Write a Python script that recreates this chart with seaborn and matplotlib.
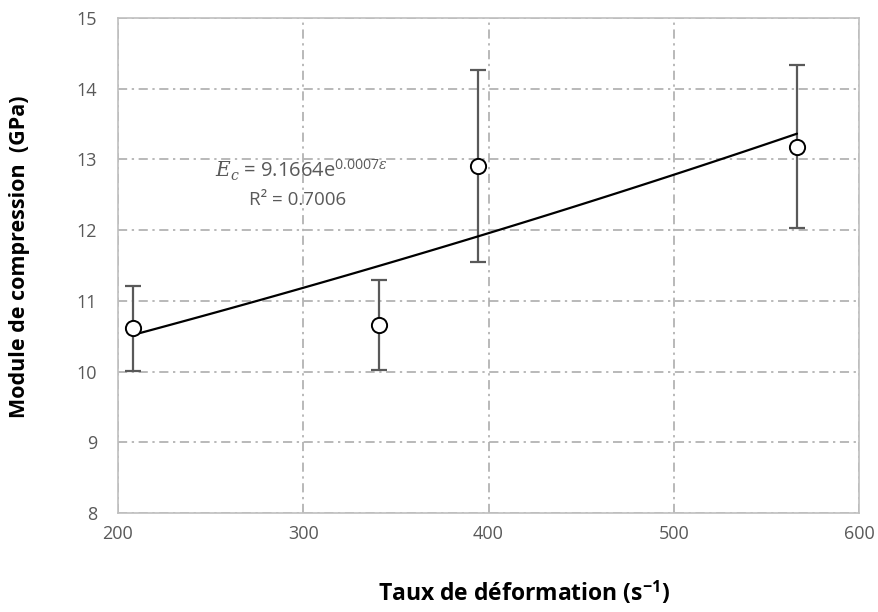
import numpy as np
import pandas as pd
import matplotlib
matplotlib.use("Agg")
import matplotlib.pyplot as plt
import seaborn as sns

# Data
strain_rate = [208, 341, 394.3, 566.5]
modulus = [10.61, 10.66, 12.91, 13.18]
modulus_err = [0.60, 0.64, 1.36, 1.15]
x_ticks = [200, 300, 400, 500, 600]
y_ticks = [8, 9, 10, 11, 12, 13, 14, 15]

df = pd.DataFrame({"x": strain_rate, "y": modulus, "err": modulus_err})

sns.set_theme(style="white")
plt.rcParams["font.family"] = ["Open Sans", "DejaVu Sans"]
plt.rcParams["mathtext.fontset"] = "custom"
plt.rcParams["mathtext.rm"] = "Open Sans"
plt.rcParams["mathtext.it"] = "DejaVu Serif:italic"
plt.rcParams["mathtext.bf"] = "Open Sans:bold"

fig = plt.figure(figsize=(8.79, 6.12), dpi=100)
ax = fig.add_axes([0.1342, 0.1618, 0.9773 - 0.1342, 0.9706 - 0.1618])

ax.set_xlim(200, 600)
ax.set_ylim(8, 15)
ax.set_xticks(x_ticks)
ax.set_yticks(y_ticks)

ax.grid(True, color="#a6a6a6", linestyle=(0, (6, 3, 1.5, 3)), linewidth=1.1, zorder=0)
for s in ax.spines.values():
    s.set_color("#bfbfbf")
    s.set_linewidth(1.2)

# Exponential trendline fit
coef = np.polyfit(df["x"], np.log(df["y"]), 1)
xs = np.linspace(df["x"].min(), df["x"].max(), 100)
trend = pd.DataFrame({"x": xs, "y": np.exp(coef[1]) * np.exp(coef[0] * xs)})
sns.lineplot(data=trend, x="x", y="y", color="black", linewidth=1.6, ax=ax, zorder=3)

ax.errorbar(df["x"], df["y"], yerr=df["err"], fmt="none", ecolor="#595959",
            elinewidth=1.6, capsize=6, capthick=1.6, zorder=2)
sns.scatterplot(data=df, x="x", y="y", marker="o", s=120, facecolor="white",
                edgecolor="black", linewidth=1.4, ax=ax, zorder=4)

ax.tick_params(axis="both", labelsize=13, labelcolor="#595959", length=0)
ax.tick_params(axis="x", pad=9)
ax.tick_params(axis="y", pad=15)

ax.set_xlabel("Taux de déformation (s$^{\\mathbf{-1}}$)", fontsize=16.5, fontweight="bold",
              color="black")
ax.xaxis.set_label_coords(0.548, -0.135)
ax.set_ylabel("Module de compression  (GPa)", fontsize=15.5, fontweight="bold",
              color="black")
ax.yaxis.set_label_coords(-0.119, 0.517)

ax.text(299, 12.85, "$E_c$ = 9.1664e$^{0.0007\\varepsilon}$", fontsize=14.5,
        color="#595959", ha="center", va="center", zorder=5)
ax.text(297, 12.43, "R² = 0.7006", fontsize=13.5, color="#595959",
        ha="center", va="center", zorder=5)

fig.savefig("out.png", dpi=100)
